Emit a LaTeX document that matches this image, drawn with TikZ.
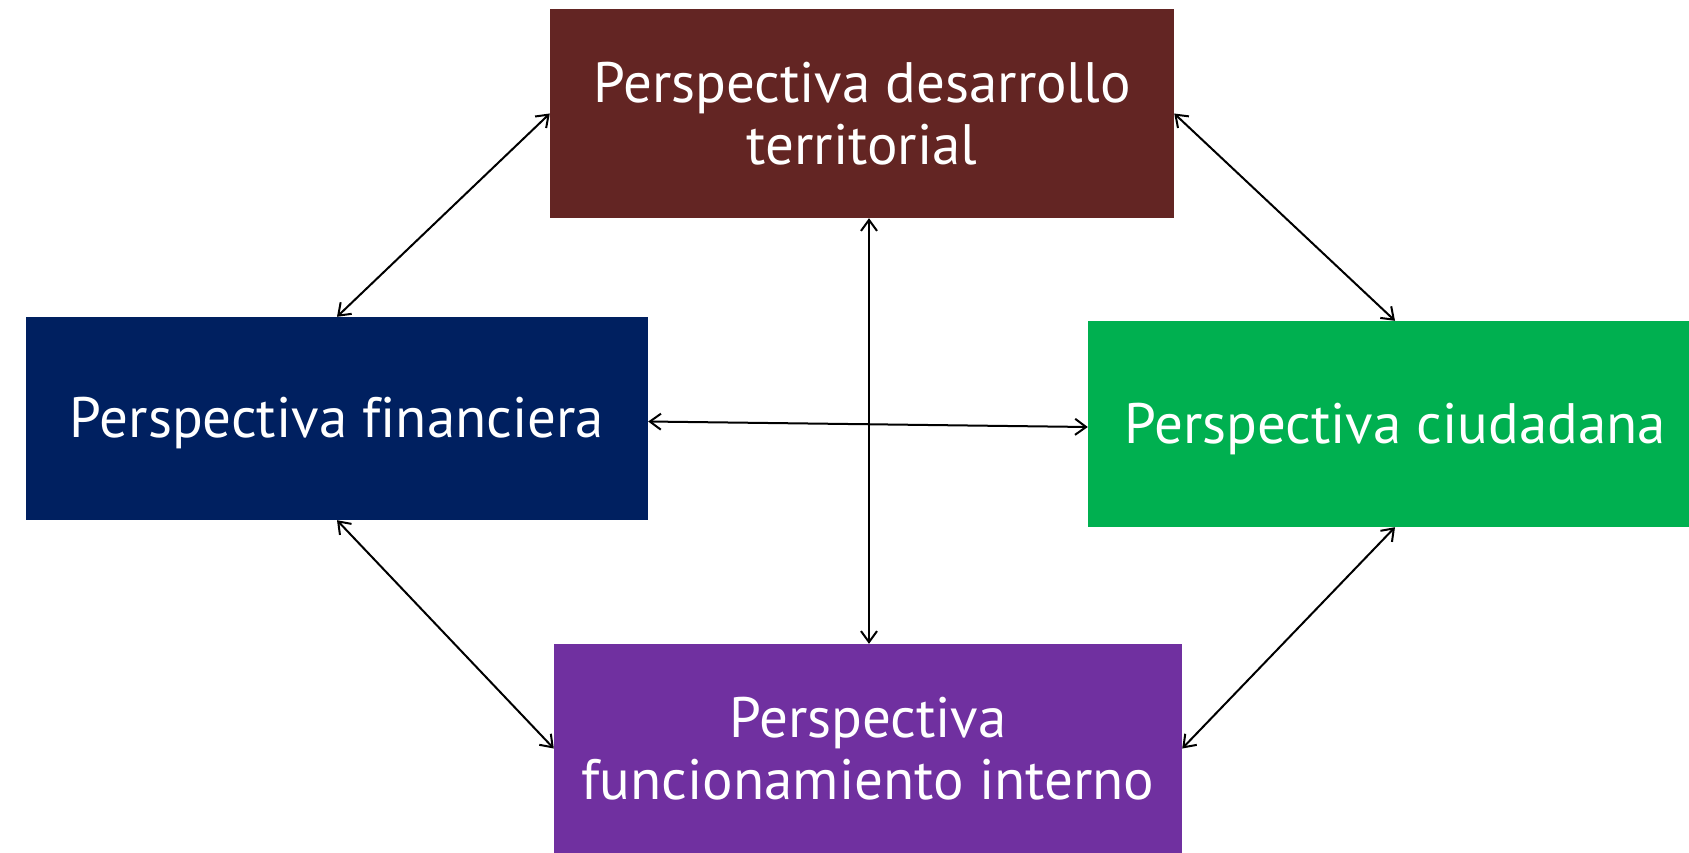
\documentclass[tikz,border=0pt]{standalone}
\usepackage{fontspec}
\setmainfont[Ligatures=NoCommon]{PT Sans}
\usetikzlibrary{arrows.meta}
\definecolor{cTop}{HTML}{632523}
\definecolor{cLeft}{HTML}{002060}
\definecolor{cRight}{HTML}{00B050}
\definecolor{cBot}{HTML}{7030A0}
\begin{document}
\begin{tikzpicture}[x=1pt,y=-1pt,
  box/.style={rectangle,inner sep=0pt,text=white,align=center,
    font=\fontsize{57}{62}\selectfont},
  link/.style={line width=2pt,{Straight Barb[length=11pt,width=16pt]}-{Straight Barb[length=11pt,width=16pt]}}]
\useasboundingbox (0,0) rectangle (1689,853);
\fill[white] (0,0) rectangle (1689,853);
\node[box,fill=cTop,minimum width=624pt,minimum height=209pt] (top) at (862,113.5) {Perspectiva desarrollo\\territorial};
\node[box,fill=cLeft,minimum width=622pt,minimum height=203pt] (left) at (337,418.5) {\raisebox{-5pt}[\height][\depth]{Perspectiva financiera}};
\node[box,fill=cRight,minimum width=614pt,minimum height=206pt] (right) at (1395,424) {\raisebox{-5pt}[\height][\depth]{Perspectiva ciudadana}};
\node[box,fill=cBot,minimum width=628pt,minimum height=209pt] (bot) at (868,748.5) {Perspectiva\\funcionamiento interno};
\draw[link] (top.west) -- (left.north);
\draw[link] (top.east) -- (right.north);
\draw[link] (bot.north -| 869,0) -- (top.south -| 869,0);
\draw[link] ([yshift=-3pt]left.east) -- ([yshift=-3pt]right.west);
\draw[link] (left.south) -- (bot.west);
\draw[link] (right.south) -- (bot.east);
\end{tikzpicture}
\end{document}
